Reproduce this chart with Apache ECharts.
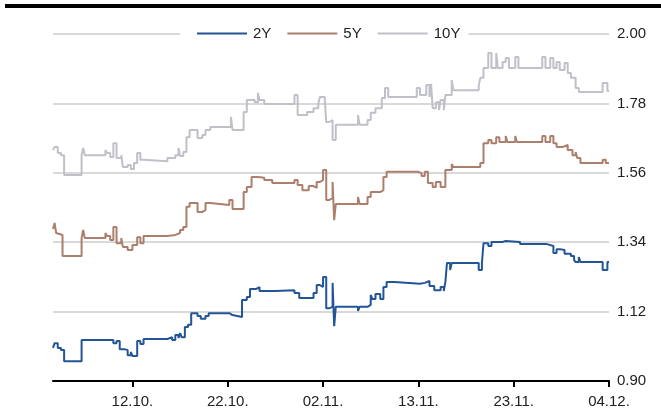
<!DOCTYPE html>
<html>
<head>
<meta charset="utf-8">
<script src="https://cdn.jsdelivr.net/npm/echarts@6/dist/echarts.min.js"></script>
<style>
  html, body { margin: 0; padding: 0; background: #fff; }
  #chart { width: 661px; height: 417px; }
</style>
</head>
<body>
<div id="chart"></div>
<script>
// Intraday yield curves, sampled by session index; each pair is [index, yield] at a change.
const tickIndex = [50, 110, 170, 230, 290, 350];
const tickLabels = ['12.10.', '22.10.', '02.11.', '13.11.', '23.11.', '04.12.'];
const yTicks = [0.90, 1.12, 1.34, 1.56, 1.78, 2.00];

const twoY = [[0,1.005],[1,1.020],[3,1.005],[5,0.998],[7,0.963],[18,1.030],[35,1.024],[36,1.030],[38,1.020],[40,1.027],[42,1.001],[45,0.998],[47,0.982],[49,0.992],[50,0.979],[53,1.027],[55,1.017],[57,1.033],[72,1.039],[75,1.030],[77,1.046],[79,1.036],[80,1.052],[81,1.039],[83,1.071],[85,1.078],[87,1.115],[91,1.106],[93,1.097],[96,1.106],[98,1.115],[111,1.109],[113,1.103],[119,1.157],[122,1.166],[124,1.192],[128,1.198],[130,1.185],[140,1.188],[152,1.179],[155,1.163],[164,1.179],[166,1.204],[168,1.198],[170,1.230],[172,1.131],[174,1.135],[176,1.211],[177,1.074],[178,1.135],[192,1.122],[193,1.135],[198,1.141],[200,1.173],[201,1.160],[203,1.176],[206,1.160],[208,1.198],[210,1.214],[215,1.208],[231,1.211],[234,1.217],[237,1.201],[240,1.188],[244,1.198],[246,1.185],[247,1.214],[248,1.274],[250,1.252],[251,1.274],[268,1.252],[270,1.274],[271,1.337],[274,1.328],[276,1.341],[283,1.344],[285,1.341],[294,1.334],[311,1.328],[315,1.306],[317,1.318],[319,1.315],[322,1.303],[326,1.296],[328,1.284],[329,1.277],[331,1.293],[332,1.277],[346,1.252],[349,1.277],[350,1.277]];

const fiveY = [[0,1.382],[1,1.401],[2,1.369],[3,1.363],[6,1.296],[18,1.353],[19,1.379],[20,1.353],[33,1.369],[34,1.360],[36,1.347],[38,1.388],[40,1.337],[43,1.353],[44,1.325],[47,1.315],[50,1.331],[53,1.356],[55,1.337],[57,1.360],[72,1.363],[77,1.369],[80,1.379],[82,1.388],[84,1.452],[86,1.464],[91,1.436],[94,1.442],[96,1.464],[99,1.458],[111,1.474],[113,1.445],[120,1.499],[122,1.515],[125,1.547],[129,1.544],[133,1.537],[138,1.528],[152,1.537],[154,1.521],[157,1.505],[161,1.518],[164,1.512],[166,1.531],[168,1.537],[170,1.569],[172,1.474],[174,1.480],[176,1.531],[177,1.410],[178,1.461],[192,1.483],[193,1.461],[198,1.483],[200,1.499],[206,1.505],[208,1.547],[210,1.563],[230,1.559],[232,1.550],[234,1.563],[236,1.528],[239,1.515],[241,1.531],[244,1.515],[247,1.569],[251,1.588],[252,1.578],[269,1.591],[271,1.654],[274,1.664],[276,1.654],[279,1.673],[281,1.658],[285,1.677],[286,1.658],[291,1.677],[292,1.658],[308,1.677],[310,1.658],[313,1.677],[315,1.654],[317,1.642],[321,1.648],[324,1.632],[327,1.616],[329,1.626],[330,1.607],[332,1.591],[346,1.601],[348,1.591],[350,1.591]];

const tenY = [[0,1.632],[1,1.642],[3,1.623],[5,1.616],[7,1.553],[18,1.616],[19,1.639],[20,1.616],[33,1.632],[34,1.623],[36,1.610],[38,1.654],[40,1.607],[43,1.616],[44,1.578],[47,1.585],[49,1.572],[51,1.591],[53,1.623],[55,1.601],[57,1.597],[72,1.607],[77,1.616],[79,1.639],[80,1.613],[82,1.626],[84,1.673],[86,1.696],[91,1.670],[94,1.680],[96,1.696],[99,1.705],[112,1.737],[113,1.696],[120,1.753],[122,1.791],[127,1.784],[129,1.813],[130,1.791],[133,1.778],[152,1.807],[154,1.743],[160,1.753],[164,1.765],[167,1.778],[168,1.800],[171,1.803],[172,1.721],[174,1.727],[176,1.664],[178,1.712],[192,1.743],[193,1.712],[198,1.727],[200,1.750],[203,1.765],[207,1.797],[209,1.829],[211,1.800],[229,1.829],[231,1.807],[235,1.838],[237,1.800],[238,1.842],[239,1.765],[241,1.784],[243,1.759],[244,1.791],[246,1.759],[247,1.807],[251,1.854],[252,1.822],[268,1.838],[269,1.861],[271,1.892],[274,1.940],[276,1.892],[279,1.940],[280,1.892],[283,1.911],[285,1.924],[287,1.892],[291,1.927],[293,1.892],[308,1.927],[310,1.892],[313,1.924],[315,1.892],[317,1.911],[319,1.886],[322,1.908],[324,1.876],[326,1.861],[329,1.829],[331,1.816],[346,1.845],[349,1.819],[350,1.819]];

const FONT = '"Liberation Sans", Arial, sans-serif';
const chart = echarts.init(document.getElementById('chart'), null, { renderer: 'canvas' });

function stepLine(name, data, color) {
  return {
    name, type: 'line', step: 'end', data,
    symbol: 'none', showSymbol: false,
    lineStyle: { color, width: 2 },
    itemStyle: { color },
    emphasis: { disabled: true },
    animation: false
  };
}

chart.setOption({
  animation: false,
  backgroundColor: '#fff',
  textStyle: { fontFamily: FONT },
  graphic: [{
    type: 'rect', left: 5, top: 4,
    shape: { width: 656, height: 4 },
    style: { fill: '#000' }
  }],
  grid: { left: 53, right: 52, top: 34, bottom: 36, containLabel: false },
  legend: {
    data: ['2Y', '5Y', '10Y'],
    icon: 'rect',
    left: 180, top: 20,
    backgroundColor: '#fff',
    padding: [6, 8, 6, 17],
    itemWidth: 50, itemHeight: 2, itemGap: 16,
    textStyle: { fontFamily: FONT, fontSize: 15, color: '#222', padding: [0, 0, 0, 1] }
  },
  xAxis: {
    type: 'value', min: 0, max: 350,
    splitLine: { show: false },
    axisLine: { show: true, lineStyle: { color: '#000', width: 2 } },
    axisTick: { show: true, customValues: tickIndex, length: 6, lineStyle: { color: '#000', width: 2 } },
    axisLabel: {
      customValues: tickIndex,
      formatter: (v) => tickLabels[tickIndex.indexOf(v)] || '',
      fontFamily: FONT, fontSize: 15, color: '#222', margin: 13
    }
  },
  yAxis: {
    type: 'value', position: 'right', min: 0.90, max: 2.00,
    axisLine: { show: false },
    axisTick: { show: false, customValues: yTicks },
    axisLabel: {
      customValues: yTicks,
      formatter: (v) => v.toFixed(2),
      fontFamily: FONT, fontSize: 15, color: '#222', margin: 8
    },
    splitLine: { show: true, lineStyle: { color: '#d9d9d9', width: 2 } }
  },
  series: [
    stepLine('10Y', tenY, '#c0c1c8'),
    stepLine('5Y', fiveY, '#ac7f6c'),
    stepLine('2Y', twoY, '#235596')
  ]
});
</script>
</body>
</html>
